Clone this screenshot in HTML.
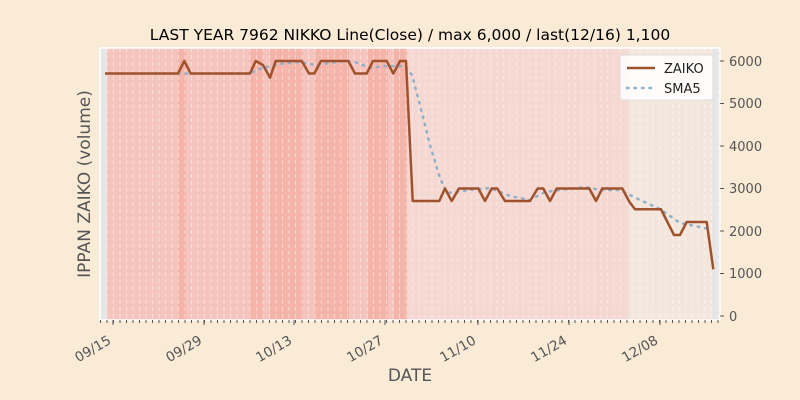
<!DOCTYPE html>
<html><head><meta charset="utf-8"><style>
html,body{margin:0;padding:0;background:#faebd7;}
svg{display:block;font-family:"DejaVu Sans","Liberation Sans",sans-serif;}
</style></head><body>
<svg id="s" width="800" height="400" viewBox="0 0 800 400">
<rect width="800" height="400" fill="#faebd7"/>
<rect x="100" y="48" width="620" height="272" fill="#e6e6e6"/>
<rect x="107" y="48" width="300" height="272" fill="#f5c5bd"/>
<rect x="407" y="48" width="222" height="272" fill="#f4d8d1"/>
<rect x="629" y="48" width="83" height="272" fill="#f3e6dc"/>
<g fill="#f4b4aa">
<rect x="178" y="48" width="8" height="272"/>
<rect x="250" y="48" width="13" height="272"/>
<rect x="270" y="48" width="33" height="272"/>
<rect x="315" y="48" width="34" height="272"/>
<rect x="368" y="48" width="20" height="272"/>
<rect x="394" y="48" width="13" height="272"/>
</g>
<g id="grid" stroke="#ffffff" stroke-opacity="0.45" stroke-width="1" stroke-dasharray="4,3"></g>
<rect x="100" y="48" width="620" height="272" fill="none" stroke="#ffffff" stroke-width="1.5"/>
<g id="ticks" stroke="#555" stroke-width="1"></g>
<g stroke="#555" stroke-width="1">
<line x1="720" y1="61" x2="724" y2="61"/><line x1="720" y1="103.5" x2="724" y2="103.5"/>
<line x1="720" y1="146" x2="724" y2="146"/><line x1="720" y1="188.5" x2="724" y2="188.5"/>
<line x1="720" y1="231" x2="724" y2="231"/><line x1="720" y1="273.5" x2="724" y2="273.5"/>
<line x1="720" y1="316" x2="724" y2="316"/>
</g>
<g font-size="13" fill="#555">
<text x="729" y="66">6000</text><text x="729" y="108">5000</text><text x="729" y="151">4000</text>
<text x="729" y="193">3000</text><text x="729" y="236">2000</text><text x="729" y="278">1000</text>
<text x="729" y="321">0</text>
</g>
<g font-size="13.5" fill="#555" text-anchor="end">
<text transform="translate(112,343) rotate(-30)">09/15</text>
<text transform="translate(203,343) rotate(-30)">09/29</text>
<text transform="translate(293,343) rotate(-30)">10/13</text>
<text transform="translate(384,343) rotate(-30)">10/27</text>
<text transform="translate(477,343) rotate(-30)">11/10</text>
<text transform="translate(568,343) rotate(-30)">11/24</text>
<text transform="translate(659,343) rotate(-30)">12/08</text>
</g>
<polyline fill="none" stroke="#8fb0cc" stroke-width="2.5" stroke-dasharray="1.5,6" stroke-linecap="round" points="133,73.5 250,73.5 262,68 280,64 300,62 315,65 345,61 355,62 370,68 385,66 405,66 412,75 420,105 430,145 440,178 447,193 455,192 470,190 490,188 510,196 530,200 545,192 560,190 585,187 600,190 620,190 640,200 660,209 680,223 700,227 712,230"/>
<polyline fill="none" stroke="#a0522d" stroke-width="2.5" stroke-linejoin="round" points="105,73.5 178,73.5 184.3,61 190.7,73.5 250,73.5 255.7,61 263,65 270,77.7 275.7,61 301.7,61 309,73.5 314.3,73.5 321,61 348.3,61 355,73.5 366.7,73.5 373,61 386.7,61 393.3,73.5 400,61 406,61 412.7,201 439.3,201 445,188.5 451.7,201 459,188.5 478.3,188.5 485,201 491.7,188.5 497.3,188.5 505,201 530,201 537.7,188.5 543.3,188.5 550,201 556.7,188.5 589.3,188.5 596,201 602.3,188.5 622.3,188.5 629.3,201.7 635,209.3 661,209.3 674,235 680,235 686.7,222 706.7,222 713.3,269.3"/>
<rect x="620" y="55" width="93" height="45" rx="3" fill="#ffffff" fill-opacity="0.85" stroke="#ddd"/>
<line x1="627" y1="68" x2="655" y2="68" stroke="#a0522d" stroke-width="2.5"/>
<line x1="627" y1="88" x2="655" y2="88" stroke="#8fb0cc" stroke-width="2.5" stroke-dasharray="1.5,6" stroke-linecap="round"/>
<text x="664" y="73" font-size="13" fill="#222">ZAIKO</text>
<text x="664" y="93" font-size="13" fill="#222">SMA5</text>
<text x="410" y="40" font-size="15.5" fill="#000" text-anchor="middle">LAST YEAR 7962 NIKKO Line(Close) / max 6,000 / last(12/16) 1,100</text>
<text x="410" y="381" font-size="17" fill="#555" text-anchor="middle">DATE</text>
<text transform="translate(90,184) rotate(-90)" font-size="17" fill="#555" text-anchor="middle">IPPAN ZAIKO (volume)</text>
</svg>
<script>
var g=document.getElementById('grid'),t=document.getElementById('ticks'),ns='http://www.w3.org/2000/svg';
for(var i=0;i<96;i++){var x=100.5+i*6.5;if(x>720)break;
var l=document.createElementNS(ns,'line');l.setAttribute('x1',x);l.setAttribute('x2',x);l.setAttribute('y1',48);l.setAttribute('y2',320);g.appendChild(l);
var k=document.createElementNS(ns,'line');k.setAttribute('x1',x);k.setAttribute('x2',x);k.setAttribute('y1',320);k.setAttribute('y2',323);t.appendChild(k);}
[113,204,294,385,478,569,660].forEach(function(x){var k=document.createElementNS(ns,'line');k.setAttribute('x1',x);k.setAttribute('x2',x);k.setAttribute('y1',320);k.setAttribute('y2',325);t.appendChild(k);});
</script>
</body></html>
